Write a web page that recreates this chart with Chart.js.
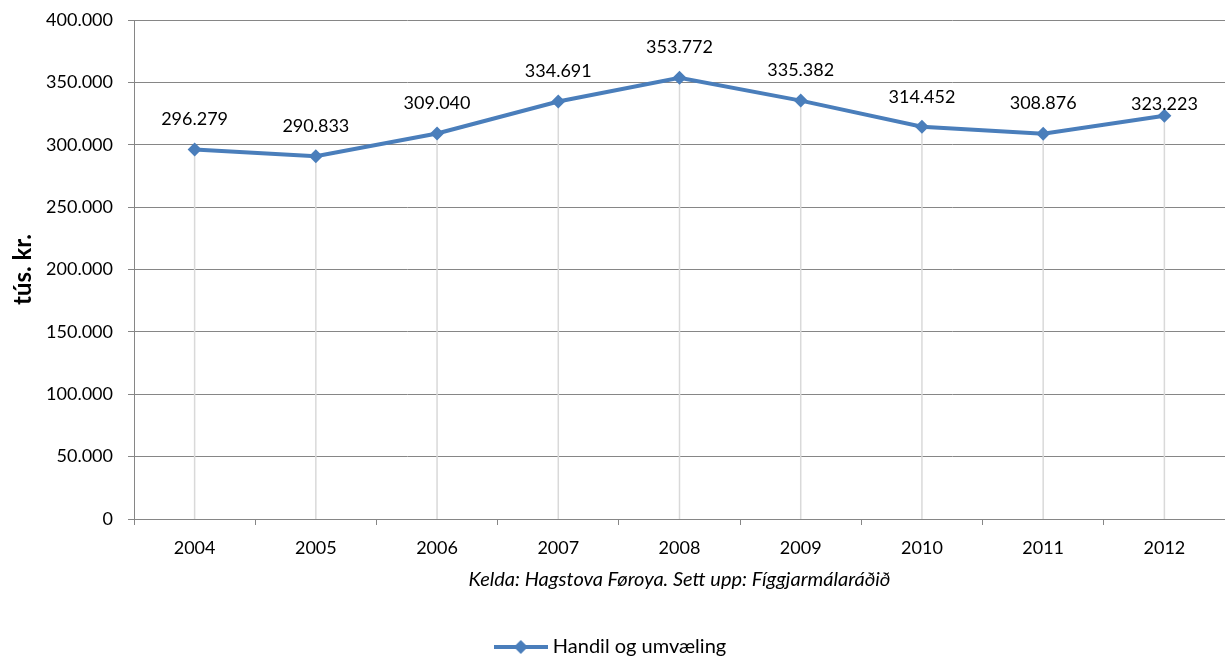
<!DOCTYPE html>
<html>
<head>
<meta charset="utf-8">
<script src="https://cdn.jsdelivr.net/npm/chart.js@4.4.1/dist/chart.umd.min.js"></script>
<style>
    html, body { margin: 0; padding: 0; background: #fff; }
    #wrap { width: 1225px; height: 656px; }
</style>
</head>
<body>
<div id="wrap"><canvas id="chart"></canvas></div>
<script>
const years = ['2004', '2005', '2006', '2007', '2008', '2009', '2010', '2011', '2012'];
const values = [296279, 290833, 309040, 334691, 353772, 335382, 314452, 308876, 323223];
const seriesName = 'Handil og umvæling';
const yTitle = 'tús. kr.';
const sourceNote = 'Kelda: Hagstova Føroya. Sett upp: Fíggjarmálaráðið';

const BLUE = '#4A7EBB';
const AXIS = '#868686';
const FONT = 'Lato';

// 296279 -> "296.279"
function fmt(v) {
    return String(v).replace(/\B(?=(\d{3})+(?!\d))/g, '.');
}

// legend sample: line with a diamond in the middle
function legendSample() {
    const c = document.createElement('canvas');
    c.width = 54;
    c.height = 16;
    const g = c.getContext('2d');
    g.strokeStyle = BLUE;
    g.lineWidth = 4;
    g.beginPath();
    g.moveTo(0, 8);
    g.lineTo(54, 8);
    g.stroke();
    g.fillStyle = BLUE;
    g.beginPath();
    g.moveTo(27, 1);
    g.lineTo(34, 8);
    g.lineTo(27, 15);
    g.lineTo(20, 8);
    g.closePath();
    g.fill();
    return c;
}

const dropLines = {
    id: 'dropLines',
    beforeDatasetsDraw(chart) {
        const ctx = chart.ctx;
        const bottom = chart.chartArea.bottom;
        ctx.save();
        ctx.strokeStyle = '#D9D9D9';
        ctx.lineWidth = 1.5;
        chart.getDatasetMeta(0).data.forEach(pt => {
            ctx.beginPath();
            ctx.moveTo(pt.x, pt.y);
            ctx.lineTo(pt.x, bottom);
            ctx.stroke();
        });
        ctx.restore();
    }
};

const pointLabels = {
    id: 'pointLabels',
    afterDatasetsDraw(chart) {
        const ctx = chart.ctx;
        const ds = chart.data.datasets[0];
        ctx.save();
        ctx.fillStyle = '#000';
        ctx.font = '18px ' + FONT;
        ctx.textAlign = 'center';
        ctx.textBaseline = 'middle';
        chart.getDatasetMeta(0).data.forEach((pt, i) => {
            const lift = i === ds.data.length - 1 ? 12 : 30;
            ctx.fillText(fmt(ds.data[i]), pt.x, pt.y - lift);
        });
        ctx.restore();
    }
};

new Chart(document.getElementById('chart'), {
    type: 'line',
    data: {
        labels: years,
        datasets: [{
            label: seriesName,
            data: values,
            borderColor: BLUE,
            backgroundColor: BLUE,
            borderWidth: 4,
            pointStyle: 'rectRot',
            pointRadius: 7,
            pointBorderWidth: 0,
            pointBackgroundColor: BLUE,
            tension: 0
        }]
    },
    options: {
        responsive: true,
        maintainAspectRatio: false,
        animation: false,
        devicePixelRatio: 1,
        layout: { autoPadding: false, padding: { top: 20, left: 0, right: 0, bottom: -11 } },
        plugins: {
            legend: {
                position: 'bottom',
                labels: {
                    usePointStyle: true,
                    pointStyleWidth: 44,
                    padding: 2,
                    color: '#000',
                    font: { family: FONT, size: 20 },
                    generateLabels: chart => [{
                        text: seriesName,
                        pointStyle: legendSample(),
                        fillStyle: BLUE,
                        strokeStyle: BLUE,
                        lineWidth: 0,
                        datasetIndex: 0
                    }]
                }
            },
            tooltip: { enabled: false }
        },
        scales: {
            x: {
                offset: true,
                afterFit: scale => { scale.height = 116; },
                border: { color: AXIS, width: 1 },
                grid: {
                    offset: true,
                    drawOnChartArea: false,
                    tickLength: 6,
                    color: AXIS
                },
                ticks: {
                    color: '#000',
                    padding: 12,
                    font: { family: FONT, size: 18 }
                },
                title: {
                    display: true,
                    text: sourceNote,
                    color: '#000',
                    padding: { top: 0, bottom: 43 },
                    font: { family: FONT, size: 20, style: 'italic' }
                }
            },
            y: {
                min: 0,
                max: 400000,
                afterFit: scale => {
                    scale.width = 134;
                    scale.paddingTop = 0;
                    scale.paddingBottom = 0;
                },
                border: { color: AXIS, width: 1 },
                grid: { color: AXIS, tickLength: 6 },
                ticks: {
                    stepSize: 50000,
                    color: '#000',
                    padding: 15,
                    font: { family: FONT, size: 18 },
                    callback: v => fmt(v)
                },
                title: {
                    display: true,
                    text: yTitle,
                    color: '#000',
                    padding: { top: 9, bottom: 0 },
                    font: { family: FONT, size: 24, weight: 'bold' }
                }
            }
        }
    },
    plugins: [dropLines, pointLabels]
});
</script>
</body>
</html>
